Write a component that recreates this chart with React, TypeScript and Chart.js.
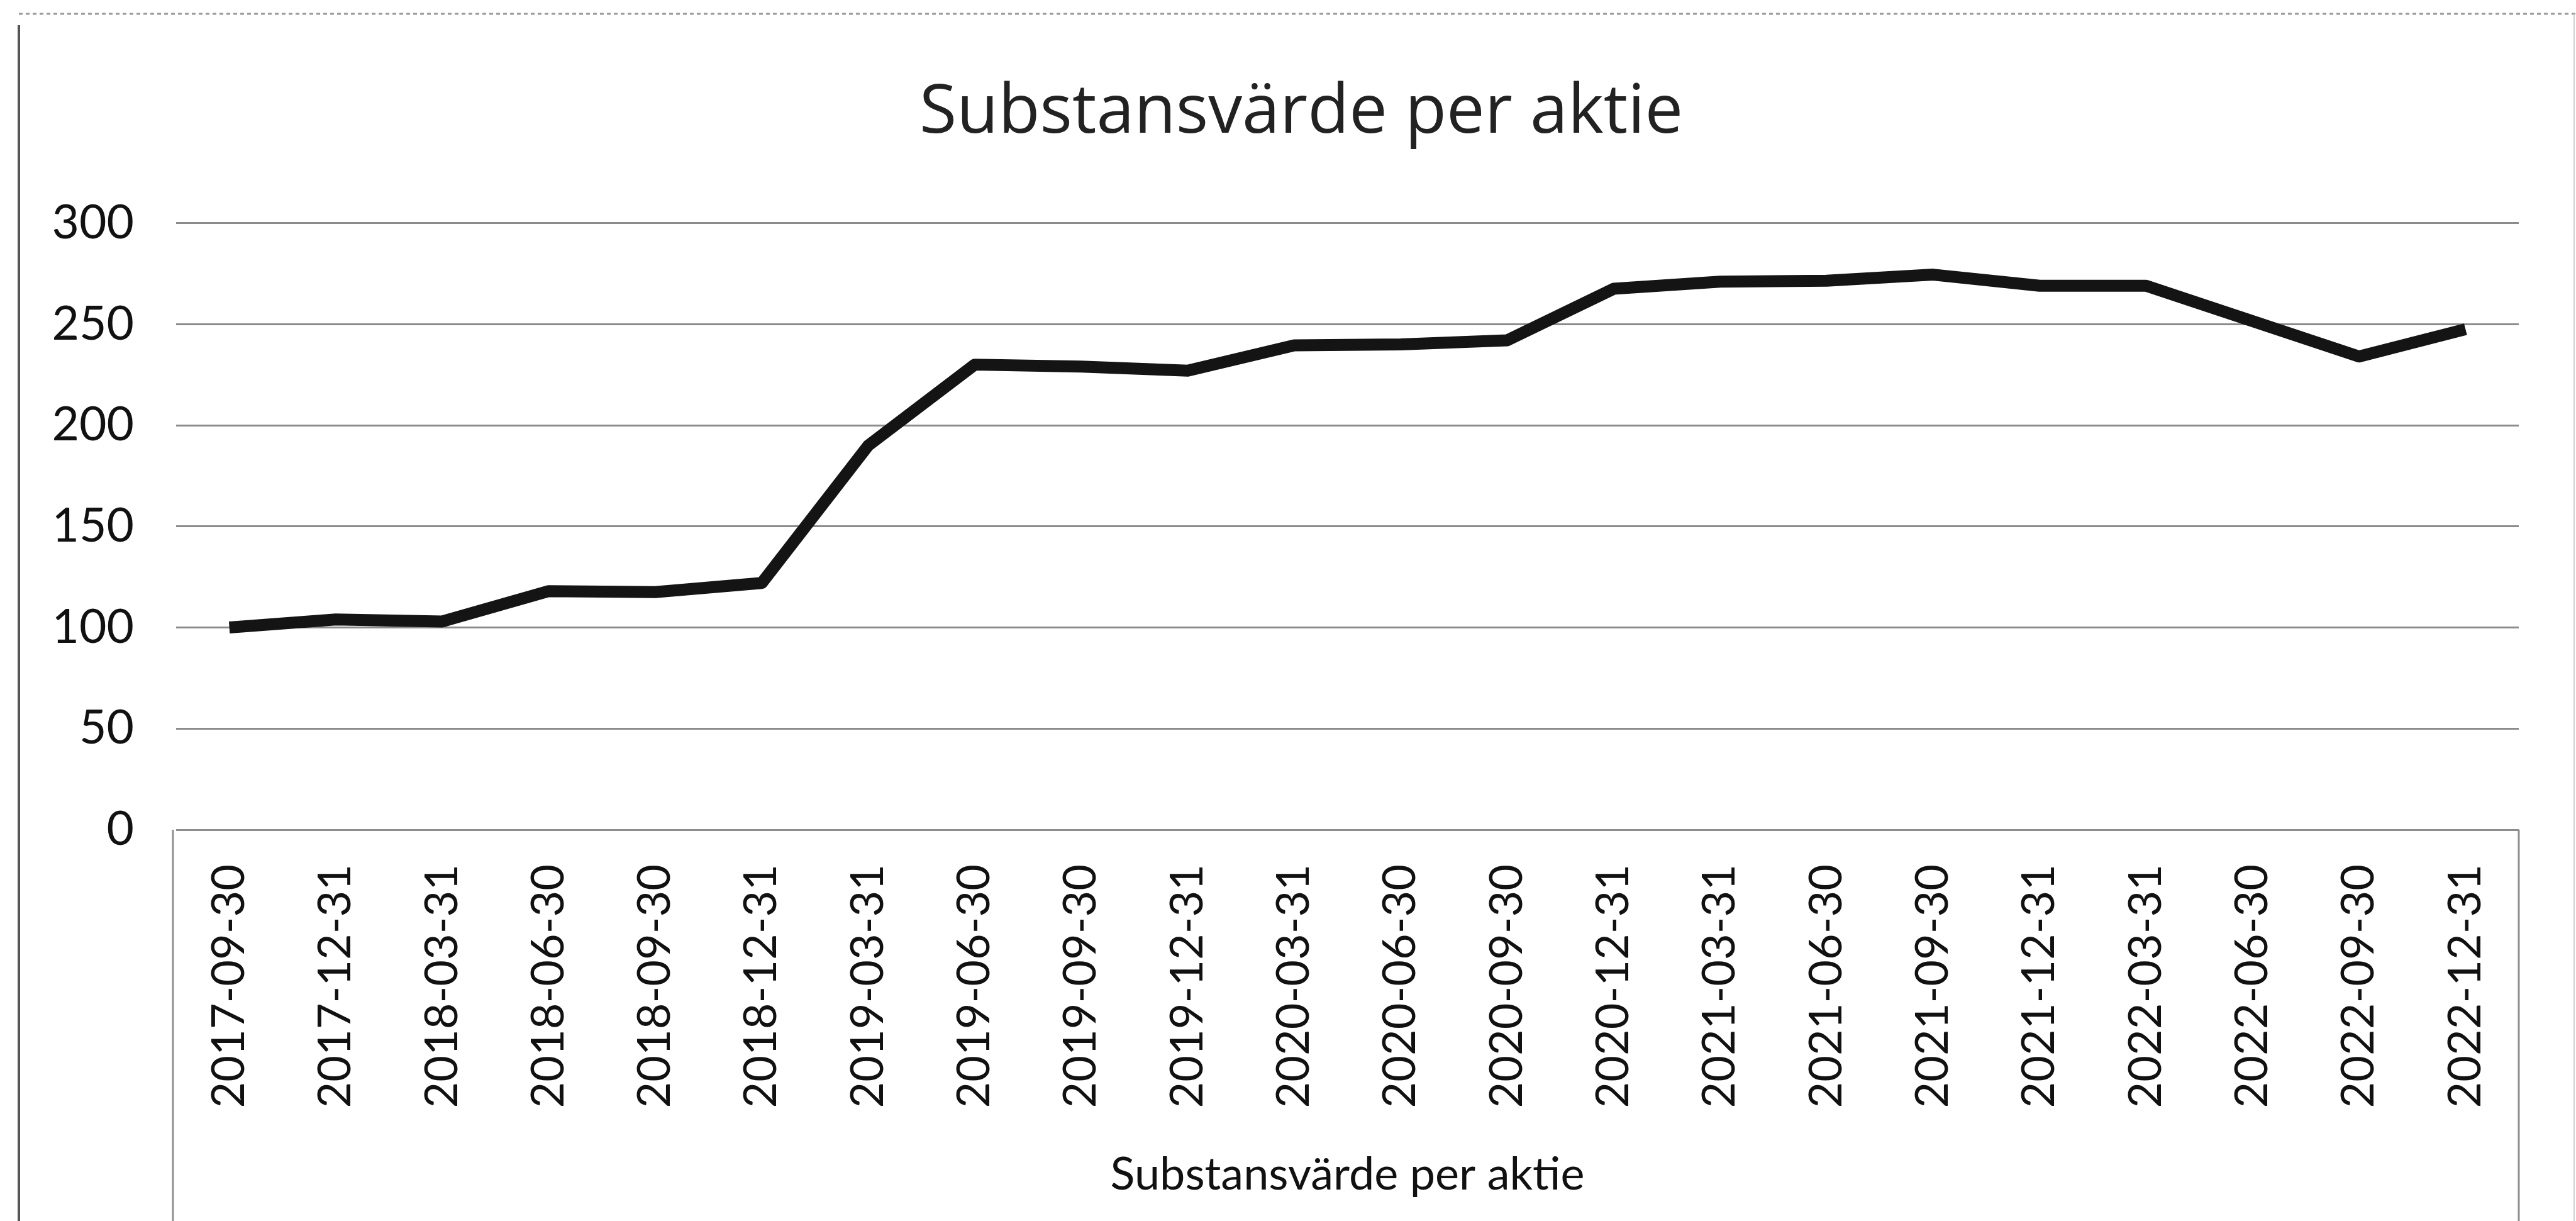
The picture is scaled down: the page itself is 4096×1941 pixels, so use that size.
import React, { useEffect, useRef } from "react";
import { Chart, registerables } from "chart.js";

Chart.register(...registerables);

const categories = [
  "2017-09-30", "2017-12-31", "2018-03-31", "2018-06-30", "2018-09-30", "2018-12-31",
  "2019-03-31", "2019-06-30", "2019-09-30", "2019-12-31", "2020-03-31", "2020-06-30",
  "2020-09-30", "2020-12-31", "2021-03-31", "2021-06-30", "2021-09-30", "2021-12-31",
  "2022-03-31", "2022-06-30", "2022-09-30", "2022-12-31",
];

const substansvarde = [
  100, 104, 103, 118, 117.5, 122, 190, 230, 229, 227, 239.5, 240,
  242, 267.5, 271, 271.5, 274.5, 269, 269, 251.5, 234, 247.5,
];

const yTicks = [0, 50, 100, 150, 200, 250, 300];

const chartTitle = "Substansvärde per aktie";
const seriesName = "Substansvärde per aktie";

const FONT = "Lato, 'Open Sans', sans-serif";
const TITLE_FONT = "'Open Sans', Lato, sans-serif";

const framePlugin = {
  id: "frame",
  beforeDraw(chart: any) {
    const { ctx, chartArea, width, height } = chart;
    ctx.save();
    // outer scan frame
    ctx.strokeStyle = "#555";
    ctx.lineWidth = 4;
    ctx.beginPath();
    ctx.moveTo(30, 40);
    ctx.lineTo(30, height);
    ctx.stroke();
    ctx.strokeStyle = "#9a9a9a";
    ctx.lineWidth = 3;
    ctx.setLineDash([6, 5]);
    ctx.beginPath();
    ctx.moveTo(30, 22);
    ctx.lineTo(width, 22);
    ctx.stroke();
    ctx.setLineDash([]);
    ctx.strokeStyle = "#d0d0d0";
    ctx.lineWidth = 2;
    ctx.beginPath();
    ctx.moveTo(width - 3, 22);
    ctx.lineTo(width - 3, height);
    ctx.stroke();
    // box around category labels
    ctx.strokeStyle = "#8f8f8f";
    ctx.lineWidth = 3;
    ctx.beginPath();
    ctx.moveTo(chartArea.left - 5, chartArea.bottom);
    ctx.lineTo(chartArea.left - 5, height);
    ctx.moveTo(chartArea.right, chartArea.bottom);
    ctx.lineTo(chartArea.right, height);
    ctx.stroke();
    ctx.restore();
  },
};

export default function App() {
  const canvasRef = useRef<HTMLCanvasElement | null>(null);

  useEffect(() => {
    document.body.style.margin = "0";
    const canvas = canvasRef.current;
    if (!canvas) return;
    const chart = new Chart(canvas, {
      type: "line",
      data: {
        labels: categories,
        datasets: [
          {
            label: seriesName,
            data: substansvarde,
            borderColor: "#141414",
            backgroundColor: "#141414",
            borderWidth: 19,
            pointRadius: 0,
            tension: 0,
            borderJoinStyle: "round",
            borderCapStyle: "butt",
          },
        ],
      },
      options: {
        animation: false,
        responsive: true,
        maintainAspectRatio: false,
        devicePixelRatio: 1,
        layout: { padding: { left: 42, right: 0, top: 0, bottom: 0 } },
        plugins: {
          legend: { display: false },
          tooltip: { enabled: false },
          title: {
            display: true,
            text: chartTitle,
            color: "#222",
            font: { family: TITLE_FONT, size: 108, weight: "normal" },
            padding: { top: 115, bottom: 110 },
          },
        },
        scales: {
          x: {
            type: "category",
            offset: true,
            grid: { display: false, drawTicks: false },
            border: { display: false },
            ticks: {
              color: "#111",
              font: { family: FONT, size: 72 },
              minRotation: 90,
              maxRotation: 90,
              padding: 55,
              autoSkip: false,
            },
            title: {
              display: true,
              text: seriesName,
              color: "#111",
              font: { family: FONT, size: 72 },
              padding: { top: 0, bottom: 30 },
            },
            afterFit(scale: any) {
              scale.height = 622;
            },
          },
          y: {
            min: 0,
            max: 300,
            afterBuildTicks(scale: any) {
              scale.ticks = yTicks.map((v) => ({ value: v }));
            },
            grid: { color: "#8c8c8c", lineWidth: 3, drawTicks: false },
            border: { display: false },
            ticks: {
              color: "#111",
              font: { family: FONT, size: 75 },
              padding: 67,
            },
            afterFit(scale: any) {
              scale.width = 238;
            },
          },
          yR: {
            position: "right",
            display: true,
            grid: { display: false, drawTicks: false },
            border: { display: false },
            ticks: { display: false },
            afterFit(scale: any) {
              scale.width = 91;
            },
          },
        },
      },
      plugins: [framePlugin],
    });
    return () => chart.destroy();
  }, []);

  return (
    <div style={{ position: "fixed", left: 0, top: 0, width: 4096, height: 1941, background: "#fff" }}>
      <canvas ref={canvasRef} />
    </div>
  );
}
